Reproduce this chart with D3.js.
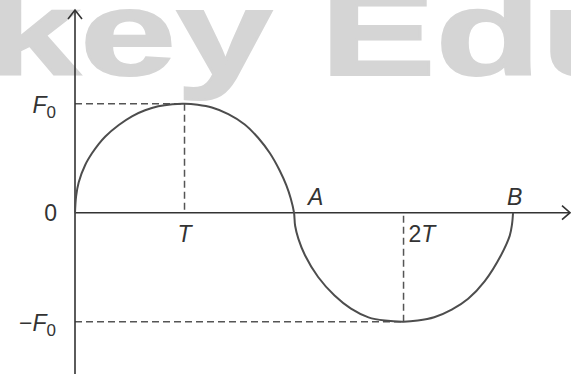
<!DOCTYPE html>
<html>
<head>
<meta charset="utf-8">
<script src="https://cdn.jsdelivr.net/npm/d3@7"></script>
<style>
  html, body { margin: 0; padding: 0; background: #fff; }
  svg { display: block; }
  text { font-family: "Liberation Sans", Arial, sans-serif; }
</style>
</head>
<body>
<div id="chart"></div>
<script>
(function(d3) {
  'use strict';

  var width = 571;
  var height = 374;

  // curve, x in units of T-spacing, y in units of F0
  var curveX = [0, 0.01, 0.034, 0.094, 0.155, 0.216, 0.277, 0.40, 0.52, 0.64, 0.76, 0.89, 1.0,
                1.12, 1.25, 1.40, 1.55, 1.67, 1.78, 1.87, 1.93, 1.97, 2.0,
                2.01, 2.04, 2.10, 2.22, 2.37, 2.52, 2.68, 2.83, 3.0,
                3.13, 3.28, 3.44, 3.59, 3.74, 3.89, 3.97, 3.99, 4.0];
  var curveY = [0, 0.15, 0.28, 0.44, 0.545, 0.63, 0.70, 0.805, 0.885, 0.94, 0.977, 0.996, 1.0,
                0.99, 0.965, 0.905, 0.81, 0.69, 0.545, 0.385, 0.25, 0.13, 0,
                -0.12, -0.24, -0.39, -0.59, -0.76, -0.88, -0.96, -0.99, -1.0,
                -0.99, -0.96, -0.89, -0.79, -0.63, -0.39, -0.21, -0.11, 0];

  var tickValues = [1, 3];
  var tickLabels = ['T', '2T'];
  var levelValues = [1, -1];
  var levelSigns = ['', '\u2212'];
  var pointValues = [2, 4];
  var pointLabels = ['A', 'B'];
  var watermark = 'key Edu';

  var xMax = 4.52, yMin = -1.48, yMax = 1.86;

  var x = d3.scaleLinear().domain([0, xMax]).range([75, width - 1]);
  var y = d3.scaleLinear().domain([yMin, yMax]).range([height, 10]);

  var svg = d3.select('#chart')
    .append('svg')
    .attr('width', width)
    .attr('height', height);

  // watermark behind everything
  svg.append('text')
    .attr('transform', 'translate(-16,75) scale(1.44,1)')
    .style('font-size', '120px')
    .style('font-weight', 'bold')
    .style('fill', '#d5d5d5')
    .style('stroke', '#d5d5d5')
    .style('stroke-width', 2)
    .text(watermark);

  var ink = '#333';
  var dashColor = '#555';

  // dashed guides
  var peaks = levelValues.map(function(v, i) {
    return { x: tickValues[i], y: v };
  });

  svg.selectAll('.hguide')
    .data(peaks)
    .enter()
    .append('line')
    .attr('x1', x(0))
    .attr('x2', function(d) { return x(d.x); })
    .attr('y1', function(d) { return y(d.y); })
    .attr('y2', function(d) { return y(d.y); })
    .style('stroke', dashColor)
    .style('stroke-width', 1.5)
    .style('stroke-dasharray', '7,4');

  svg.selectAll('.vguide')
    .data(peaks)
    .enter()
    .append('line')
    .attr('x1', function(d) { return x(d.x); })
    .attr('x2', function(d) { return x(d.x); })
    .attr('y1', function(d) { return y(d.y); })
    .attr('y2', y(0))
    .style('stroke', dashColor)
    .style('stroke-width', 1.5)
    .style('stroke-dasharray', '7,4');

  // axes
  svg.append('line')
    .attr('x1', x(0)).attr('x2', x(xMax))
    .attr('y1', y(0)).attr('y2', y(0))
    .style('stroke', ink).style('stroke-width', 1.6);

  svg.append('line')
    .attr('x1', x(0)).attr('x2', x(0))
    .attr('y1', y(yMin)).attr('y2', y(yMax))
    .style('stroke', ink).style('stroke-width', 1.6);

  svg.append('path')
    .attr('d', 'M' + (x(xMax) - 8) + ',' + (y(0) - 7) + 'L' + x(xMax) + ',' + y(0) +
               'L' + (x(xMax) - 8) + ',' + (y(0) + 7))
    .style('fill', 'none').style('stroke', ink).style('stroke-width', 1.6);

  svg.append('path')
    .attr('d', 'M' + (x(0) - 7) + ',' + (y(yMax) + 9) + 'L' + x(0) + ',' + y(yMax) +
               'L' + (x(0) + 7) + ',' + (y(yMax) + 9))
    .style('fill', 'none').style('stroke', ink).style('stroke-width', 1.6);

  // the curve
  var line = d3.line()
    .x(function(d) { return x(d[0]); })
    .y(function(d) { return y(d[1]); })
    .curve(d3.curveCatmullRom.alpha(0.5));

  svg.append('path')
    .datum(d3.zip(curveX, curveY))
    .attr('d', line)
    .style('fill', 'none')
    .style('stroke', '#4d4d4d')
    .style('stroke-width', 2);

  // labels
  var fs = 23;

  svg.append('text')
    .attr('x', x(0) - 18)
    .attr('y', y(0) + 8)
    .attr('text-anchor', 'end')
    .style('font-size', fs + 'px')
    .style('fill', '#333')
    .text('0');

  var lev = svg.selectAll('.level')
    .data(levelValues)
    .enter()
    .append('text')
    .attr('x', x(0) - 19)
    .attr('y', function(d) { return y(d) + 9; })
    .attr('text-anchor', 'end')
    .style('font-size', fs + 'px')
    .style('fill', '#333');
  lev.append('tspan').text(function(d, i) { return levelSigns[i]; });
  lev.append('tspan').style('font-style', 'italic').text('F');
  lev.append('tspan')
    .attr('dy', 5)
    .style('font-size', '17px')
    .text('0');

  var ticks = svg.selectAll('.tick')
    .data(tickValues)
    .enter()
    .append('text')
    .attr('x', function(d, i) { return x(d) + (i === 0 ? 0 : 5); })
    .attr('y', y(0) + 29)
    .attr('text-anchor', function(d, i) { return i === 0 ? 'middle' : 'start'; })
    .style('font-size', fs + 'px')
    .style('fill', '#333');
  ticks.each(function(d, i) {
    var t = d3.select(this);
    var lab = tickLabels[i];
    var num = lab.slice(0, -1);
    if (num) t.append('tspan').text(num);
    t.append('tspan').style('font-style', 'italic').text(lab.slice(-1));
  });

  svg.selectAll('.pt')
    .data(pointValues)
    .enter()
    .append('text')
    .attr('x', function(d, i) { return x(d) + (i === 0 ? 14 : -6); })
    .attr('y', y(0) - 8)
    .style('font-size', fs + 'px')
    .style('font-style', 'italic')
    .style('fill', '#333')
    .text(function(d, i) { return pointLabels[i]; });

})(window.d3);
</script>
</body>
</html>
